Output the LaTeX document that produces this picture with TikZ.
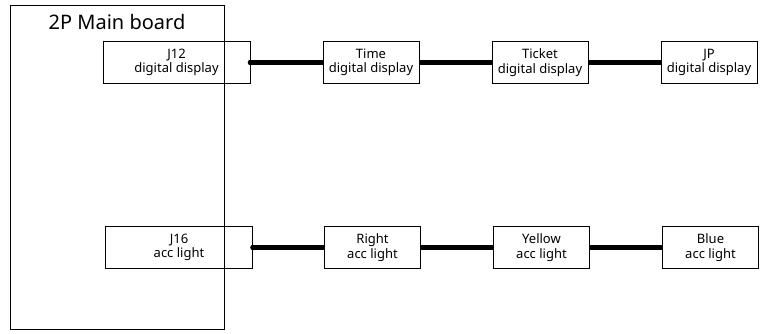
\documentclass[tikz,border=0pt]{standalone}
\usepackage{fontspec}
\setmainfont{Noto Sans}
\usetikzlibrary{arrows.meta,positioning}

\begin{document}
\begin{tikzpicture}[
  x=1pt, y=1pt,
  bx/.style={draw, line width=1pt, minimum height=42pt, inner sep=0pt,
             font=\fontsize{13}{14.5}\selectfont, align=center},
  sm/.style={bx, minimum width=96pt},
  wd/.style={bx, minimum width=147pt},
  cn/.style={line width=4.5pt},
  dt/.style={fill, radius=2.8pt},
  node distance=72pt
]
  \useasboundingbox (0,0) rectangle (765,-334);

  \node[draw, line width=1pt, minimum width=214pt, minimum height=323pt,
        inner sep=0pt] (mb) at (117,-167.5) {};
  \node[anchor=north, inner sep=0pt, font=\fontsize{20}{22}\selectfont]
        (mbt) at ([yshift=-9pt]mb.north) {2P Main board};

  % display chain
  \node[wd] (j12) at (176.5,-62.5) {J12\\digital display};
  \node[sm, right=of j12]  (time)   {Time\\digital display};
  \node[sm, right=of time] (ticket) {Ticket\\digital display};
  \node[sm, right=of ticket] (jp)   {JP\\digital display};

  % light chain
  \node[wd] (j16) at (179,-247.5) {J16\\acc light};
  \node[sm, right=71pt of j16]  (right)  {Right\\acc light};
  \node[sm, right=of right]     (yellow) {Yellow\\acc light};
  \node[sm, right=of yellow]    (blue)   {Blue\\acc light};

  \draw[cn] (j12)--(time);
  \draw[cn] (time)--(ticket);
  \draw[cn] (ticket)--(jp);
  \draw[cn] (j16)--(right);
  \draw[cn] (right)--(yellow);
  \draw[cn] (yellow)--(blue);
  \fill[dt] (j12.east) circle;
  \fill[dt] (j16.east) circle;
\end{tikzpicture}
\end{document}
